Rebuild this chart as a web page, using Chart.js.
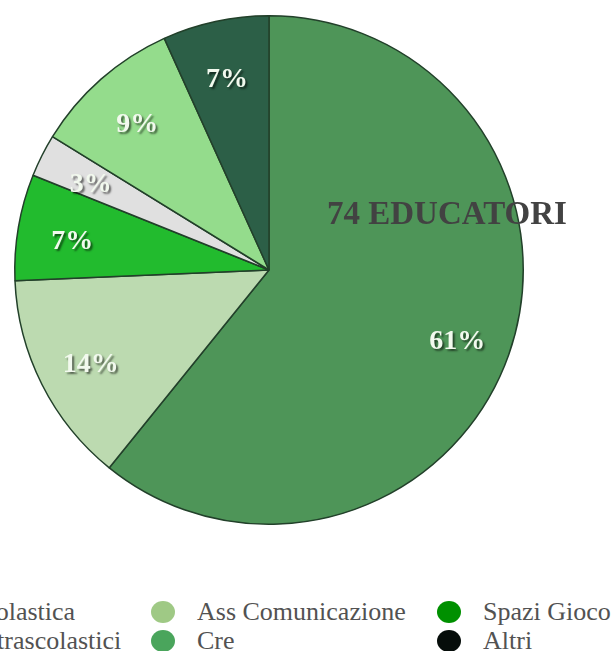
<!DOCTYPE html>
<html>
<head>
<meta charset="utf-8">
<script src="https://cdn.jsdelivr.net/npm/chart.js@4"></script>
<style>
  html, body { margin: 0; padding: 0; background: #ffffff; }
  body { width: 612px; height: 651px; position: relative; overflow: hidden; }
  #wrap { position: absolute; left: 0; top: 0; width: 612px; height: 534px; }
  #legend {
    position: absolute; left: -194px; top: 597px;
    display: grid; grid-template-columns: 345px 286px 200px;
    font-family: "Liberation Serif", "Times New Roman", serif;
    font-size: 26px; line-height: 29px; color: #525252;
  }
  .item { display: flex; align-items: center; white-space: nowrap; height: 29px; }
  .dot { width: 24px; height: 22px; border-radius: 50%; margin-right: 22px; flex: none; }
</style>
</head>
<body>
<div id="wrap"><canvas id="c" width="612" height="534"></canvas></div>
<div id="legend"></div>
<script>
// ---- data ----
const categories = ["Cre", "Assistenza Scolastica", "Spazi Gioco", "Laboratori Extrascolastici", "Ass Comunicazione", "Altri"];
const counts = [45, 10, 5, 2, 7, 5];
const sliceColors = ["#4e9558", "#bcdab0", "#22bb2e", "#e0e0e0", "#94dc8c", "#2c5f47"];
const legendOrder = ["Assistenza Scolastica", "Ass Comunicazione", "Spazi Gioco", "Laboratori Extrascolastici", "Cre", "Altri"];
const legendColors = ["#b9d9a9", "#9fc985", "#009000", "#d9d9d9", "#4aa55c", "#060d0a"];
const centerTitle = "74 EDUCATORI";

const total = counts.reduce((a, b) => a + b, 0);

const pctLabels = {
  id: 'pctLabels',
  afterDatasetsDraw(chart) {
    const ctx = chart.ctx;
    const meta = chart.getDatasetMeta(0);
    let cx = 0, cy = 0, R = 0;
    ctx.save();
    ctx.font = 'bold 28px "Liberation Serif", serif';
    ctx.textAlign = 'center';
    ctx.textBaseline = 'middle';
    meta.data.forEach((arc, i) => {
      cx = arc.x; cy = arc.y; R = arc.outerRadius;
      const mid = (arc.startAngle + arc.endAngle) / 2;
      const r = arc.outerRadius * 0.785;
      const x = arc.x + Math.cos(mid) * r;
      const y = arc.y + Math.sin(mid) * r + 5;
      const txt = Math.round(counts[i] / total * 100) + '%';
      ctx.shadowColor = 'rgba(0,0,0,0.55)';
      ctx.shadowOffsetX = 2;
      ctx.shadowOffsetY = 2;
      ctx.shadowBlur = 2;
      ctx.fillStyle = '#f2f9ee';
      ctx.fillText(txt, x, y);
    });
    ctx.restore();
    // overlay title
    ctx.save();
    ctx.font = 'bold 33px "Liberation Serif", serif';
    ctx.fillStyle = '#424242';
    ctx.textAlign = 'center';
    ctx.textBaseline = 'alphabetic';
    ctx.fillText(centerTitle, cx + R * 0.70, cy - R * 0.18);
    ctx.restore();
  }
};

new Chart(document.getElementById('c'), {
  type: 'pie',
  data: {
    labels: categories,
    datasets: [{
      data: counts,
      backgroundColor: sliceColors,
      borderColor: '#22402a',
      borderWidth: 1.5
    }]
  },
  options: {
    responsive: false,
    animation: false,
    devicePixelRatio: 1,
    layout: { padding: { left: 12, right: 86, top: 15, bottom: 9 } },
    plugins: {
      legend: { display: false },
      tooltip: { enabled: false }
    }
  },
  plugins: [pctLabels]
});

// HTML legend built from arrays
const lg = document.getElementById('legend');
legendOrder.forEach((name, i) => {
  const it = document.createElement('div');
  it.className = 'item';
  const d = document.createElement('span');
  d.className = 'dot';
  d.style.background = legendColors[i];
  const t = document.createElement('span');
  t.textContent = name;
  it.appendChild(d);
  it.appendChild(t);
  lg.appendChild(it);
});
</script>
</body>
</html>
